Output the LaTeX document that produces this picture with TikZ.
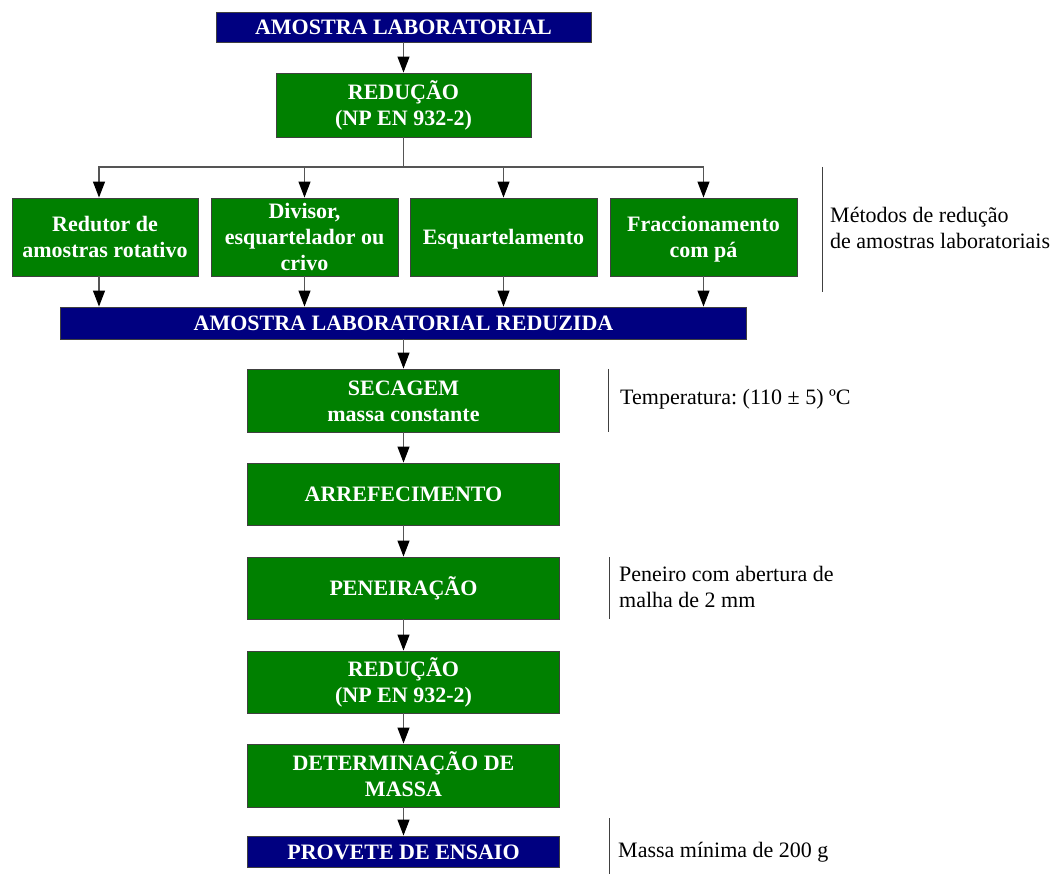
\documentclass[tikz,border=0pt]{standalone}
\usepackage{fontspec}
\setmainfont{Liberation Serif}
\usetikzlibrary{arrows.meta}
\definecolor{navyfill}{RGB}{0,0,128}
\definecolor{greenfill}{RGB}{0,128,0}
\definecolor{edgegray}{RGB}{64,64,64}
\definecolor{linkgray}{RGB}{85,85,85}
\frenchspacing
% rows of fixed 26pt pitch, visually centred on the capitals
\newcommand\rowstrut{\vrule height20.5pt depth5.5pt width0pt}
\newcommand\cstack[1]{\vbox{\offinterlineskip\halign{\hfil\rowstrut##\hfil\cr#1\crcr}}}
\newcommand\lstack[1]{\vbox{\offinterlineskip\halign{\rowstrut##\hfil\cr#1\crcr}}}

\begin{document}
\begin{tikzpicture}[x=1pt,y=-1pt,
  font=\fontsize{22}{26}\selectfont,
  procbox/.style={draw=edgegray,line width=0.9pt,inner sep=0pt,text=white,
    font=\fontsize{22}{26}\selectfont\bfseries},
  greenbox/.style={procbox,fill=greenfill},
  bluebox/.style={procbox,fill=navyfill},
  link/.style={draw=linkgray,line width=1.2pt},
  flow/.style={link,-{Triangle[length=16pt,width=12pt,color=black]}},
  sidebar/.style={draw=black!75,line width=1pt},
  note/.style={anchor=base west,inner sep=0pt,text=black}]

\useasboundingbox (0,0) rectangle (1052,874);

% main column
\node[bluebox,minimum width=375pt,minimum height=30pt] (top) at (403.5,27) {\cstack{AMOSTRA LABORATORIAL}};
\node[greenbox,minimum width=255pt,minimum height=64pt] (red1) at (403.5,105) {\cstack{REDUÇÃO\cr (NP EN 932-2)}};

% reduction methods
\node[greenbox,minimum width=186pt,minimum height=78pt] (m1) at (105,237) {\cstack{Redutor de\cr amostras rotativo}};
\node[greenbox,minimum width=187pt,minimum height=78pt] (m2) at (304.5,237) {\cstack{Divisor,\cr esquartelador ou\cr crivo}};
\node[greenbox,minimum width=187pt,minimum height=78pt] (m3) at (503.5,237) {\cstack{Esquartelamento}};
\node[greenbox,minimum width=187pt,minimum height=78pt] (m4) at (703.5,237) {\cstack{Fraccionamento\cr com pá}};

\node[bluebox,minimum width=686pt,minimum height=32pt] (red) at (403.5,323) {\cstack{AMOSTRA LABORATORIAL REDUZIDA}};

\node[greenbox,minimum width=312pt,minimum height=63pt] (dry) at (403.5,400.5) {\cstack{SECAGEM\cr massa constante}};
\node[greenbox,minimum width=312pt,minimum height=62pt] (cool) at (403.5,494) {\cstack{ARREFECIMENTO}};
\node[greenbox,minimum width=312pt,minimum height=62pt] (sieve) at (403.5,588) {\cstack{PENEIRAÇÃO}};
\node[greenbox,minimum width=312pt,minimum height=62pt] (red2) at (403.5,682) {\cstack{REDUÇÃO\cr (NP EN 932-2)}};
\node[greenbox,minimum width=312pt,minimum height=63pt] (mass) at (403.5,775.5) {\cstack{DETERMINAÇÃO DE\cr MASSA}};
\node[bluebox,minimum width=312pt,minimum height=31pt] (spec) at (403.5,851.5) {\cstack{PROVETE DE ENSAIO}};

% connectors
\coordinate (split) at (403.5,167);
\draw[flow] (top) -- (red1);
\draw[link] (red1.south) -- (split);
\draw[flow] (split) -| ([xshift=-6pt]m1.north);
\draw[flow] (split) -| (m2.north);
\draw[flow] (split) -| (m3.north);
\draw[flow] (split) -| (m4.north);
\draw[flow] ([xshift=-6pt]m1.south) -- ([xshift=-6pt]m1.south |- red.north);
\draw[flow] (m2.south) -- (m2.south |- red.north);
\draw[flow] (m3.south) -- (m3.south |- red.north);
\draw[flow] (m4.south) -- (m4.south |- red.north);
\draw[flow] (red) -- (dry);
\draw[flow] (dry) -- (cool);
\draw[flow] (cool) -- (sieve);
\draw[flow] (sieve) -- (red2);
\draw[flow] (red2) -- (mass);
\draw[flow] (mass) -- (spec);

% side notes
\draw[sidebar] (822,167) -- (822,292);
\node[note] (nmeth) at (830,249) {\lstack{Métodos de redução\cr de amostras laboratoriais}};
\draw[sidebar] (608,369) -- (608,432);
\node[note] (ntemp) at (620,404) {Temperatura: (110 ± 5) ºC};
\draw[sidebar] (609,557) -- (609,619);
\node[note] (nsieve) at (619,607) {\lstack{Peneiro com abertura de\cr malha de 2 mm}};
\draw[sidebar] (609,818) -- (609,874);
\node[note] (nmass) at (618,857) {Massa mínima de 200 g};
\end{tikzpicture}
\end{document}
